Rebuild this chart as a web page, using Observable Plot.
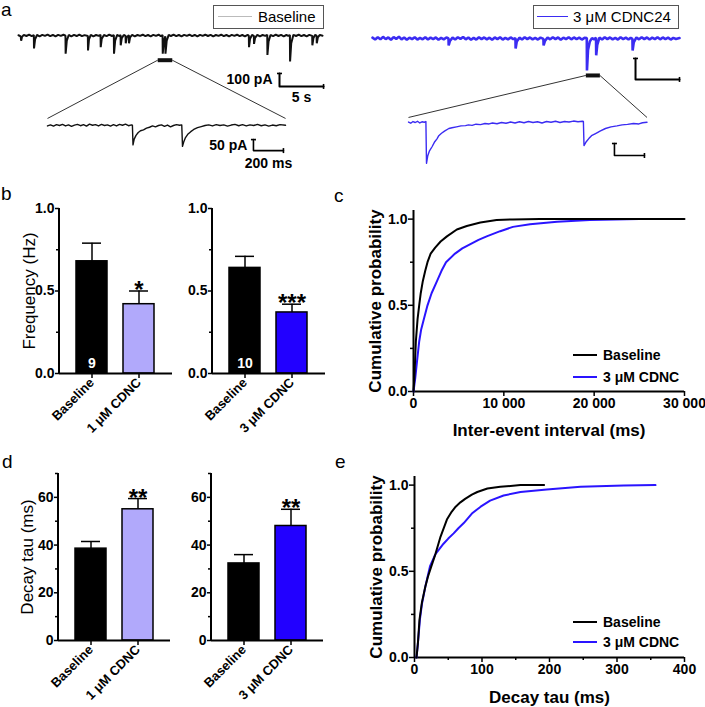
<!DOCTYPE html>
<html><head><meta charset="utf-8">
<script src="https://cdn.jsdelivr.net/npm/d3@7"></script>
<script src="https://cdn.jsdelivr.net/npm/@observablehq/plot@0.6"></script>
<style>
body{margin:0;background:#fff;}
#fig{position:relative;width:705px;height:707px;overflow:hidden;}
.panel{position:absolute;}
</style></head><body><div id="fig"></div>
<script>
// ===================== DATA =====================
// Panel b: frequency (Hz)
const freqCats1 = ["Baseline", "1 μM CDNC"];
const freqMeans1 = [0.68, 0.42];
const freqSems1 = [0.11, 0.08];
const freqN1 = ["9", ""];
const freqStars1 = ["", "*"];
const freqCats3 = ["Baseline", "3 μM CDNC"];
const freqMeans3 = [0.64, 0.37];
const freqSems3 = [0.07, 0.05];
const freqN3 = ["10", ""];
const freqStars3 = ["", "***"];
const freqTicks = [0, 0.5, 1.0];
const freqMinorTicks = [0.25, 0.75];

// Panel d: decay tau (ms)
const tauMeans1 = [38.5, 55.0];
const tauSems1 = [3.0, 4.5];
const tauStars1 = ["", "**"];
const tauMeans3 = [32.3, 48.0];
const tauSems3 = [3.7, 7.0];
const tauStars3 = ["", "**"];
const tauTicks = [0, 20, 40, 60];
const tauMinorTicks = [10, 30, 50, 70];

// Panel c: cumulative probability of inter-event interval (ms, probability)
const iriBaseline = [[0,0],[100,0.08],[260,0.29],[450,0.42],[630,0.5],[800,0.57],[1030,0.64],[1300,0.70],[1550,0.75],[1900,0.80],[2400,0.835],[3000,0.87],[3700,0.9],[4800,0.94],[5900,0.96],[7400,0.98],[9200,0.995],[11000,0.998],[14000,1.0],[30000,1.0]];
const iriCdnc = [[0,0],[200,0.08],[400,0.18],[630,0.29],[850,0.36],[1100,0.41],[1550,0.5],[2000,0.57],[2600,0.64],[3100,0.70],[3600,0.75],[4600,0.8],[5400,0.83],[6300,0.855],[7200,0.88],[8100,0.9],[9600,0.93],[11000,0.955],[12900,0.97],[15900,0.985],[19500,0.995],[25000,1.0]];
const iriTicks = [0, 10000, 20000, 30000];

// Panel e: cumulative probability of decay tau (ms, probability)
const tauBaseline = [[3,0],[5,0.08],[7.4,0.22],[11,0.32],[16,0.41],[20,0.47],[25,0.53],[31,0.60],[38.5,0.70],[48,0.80],[55,0.845],[61,0.875],[68,0.90],[75,0.92],[85,0.945],[93,0.96],[108,0.98],[127,0.99],[157,1.0],[192,1.0]];
const tauCdnc = [[3,0],[5,0.08],[8,0.22],[11,0.31],[16,0.41],[23,0.53],[31,0.60],[37,0.63],[43,0.66],[50,0.69],[58,0.72],[65,0.75],[73,0.78],[85,0.835],[98,0.875],[112,0.91],[132,0.94],[157,0.96],[196,0.975],[246,0.99],[310,0.998],[357,1.0]];
const decayTicks = [0, 100, 200, 300, 400];
const decayMinorTicks = [50, 150, 250, 350];

// Panel a: traces (time, current pA)
const baselineOverview = [[0.0,2],[0.25,-6],[0.3,-40],[0.4,-10],[0.6,5],[0.9,-4],[1.2,6],[1.5,-5],[1.74,3],[1.76,-100],[1.88,-30],[2.1,4],[2.4,-6],[2.7,5],[3.0,-3],[3.3,7],[3.6,-5],[3.9,4],[4.2,-7],[4.5,5],[4.8,-3],[5.1,6],[5.33,-2],[5.35,-140],[5.48,-40],[5.7,4],[6.0,-6],[6.3,5],[6.6,-4],[6.9,7],[7.2,-5],[7.5,3],[7.87,-4],[7.89,-115],[8.0,-30],[8.2,5],[8.5,-6],[8.8,4],[9.1,-3],[9.31,5],[9.33,-90],[9.45,-25],[9.7,4],[10.0,-5],[10.3,6],[10.6,-4],[10.82,3],[10.84,-140],[10.97,-40],[11.2,5],[11.4,-4],[11.58,3],[11.6,-75],[11.72,-20],[11.95,4],[12.15,-3],[12.17,-60],[12.28,-15],[12.52,3],[12.54,-60],[12.66,-15],[12.9,5],[13.2,-6],[13.5,4],[13.8,-3],[14.1,6],[14.4,-5],[14.7,4],[15.0,-6],[15.3,5],[15.6,-3],[15.9,6],[16.15,-4],[16.35,3],[16.37,-140],[16.5,-45],[16.66,-6],[16.68,-140],[16.82,-40],[17.05,5],[17.3,-4],[17.6,6],[17.9,-5],[18.2,4],[18.5,-6],[18.8,5],[19.1,-3],[19.4,6],[19.7,-5],[20.0,4],[20.3,-7],[20.6,5],[20.9,-3],[21.2,6],[21.5,-4],[21.8,5],[22.1,-6],[22.4,4],[22.7,-3],[23.0,6],[23.3,-5],[23.6,4],[23.9,-6],[24.2,5],[24.5,-3],[24.8,6],[25.1,-5],[25.4,4],[25.7,-6],[26.0,5],[26.14,-2],[26.16,-90],[26.28,-25],[26.5,4],[26.71,-3],[26.73,-65],[26.85,-18],[27.1,5],[27.4,-6],[27.7,4],[28.0,-3],[28.23,5],[28.25,-150],[28.38,-45],[28.6,4],[28.9,-5],[29.2,6],[29.5,-4],[29.8,5],[30.1,-6],[30.4,4],[30.6,-3],[30.8,3],[30.82,-200],[30.95,-60],[31.2,5],[31.5,-4],[31.8,6],[32.1,-5],[32.4,4],[32.7,-6],[33.0,5],[33.33,-3],[33.35,-75],[33.47,-20],[33.65,4],[33.83,-2],[33.85,-60],[33.97,-15],[34.2,5],[34.5,-2]];
const baselineZoom = [[0,-2],[20,3],[40,-3],[60,4],[80,0],[100,5],[120,-2],[140,3],[160,-4],[180,2],[200,5],[220,-1],[240,4],[260,-3],[280,6],[300,1],[320,4],[340,-2],[360,5],[380,0],[400,3],[420,-3],[440,4],[460,-2],[480,5],[500,1],[520,6],[540,-1],[560,3],[566,2],[570,-88],[578,-62],[590,-45],[605,-32],[620,-24],[640,-20],[660,-12],[680,-8],[700,-2],[720,-6],[740,0],[760,3],[780,-4],[800,2],[820,-6],[840,0],[860,4],[880,1],[895,3],[900,-95],[908,-75],[920,-55],[935,-40],[955,-28],[975,-18],[1000,-10],[1025,-5],[1050,0],[1075,3],[1100,-2],[1125,4],[1150,0],[1175,3],[1200,-3],[1225,2],[1250,5],[1275,-1],[1300,4],[1325,-2],[1350,3],[1375,0],[1400,5],[1425,-1],[1450,3],[1475,-3],[1500,2],[1525,-1],[1550,4],[1587,1]];
const cdncOverview = [[0,4],[0.3,-5],[0.6,6],[0.9,-4],[1.2,8],[1.5,-3],[1.8,5],[2.1,-6],[2.4,7],[2.7,-2],[3.0,9],[3.3,-4],[3.6,5],[3.9,-6],[4.2,4],[4.5,-3],[4.8,6],[5.1,-5],[5.4,3],[5.7,-4],[6.0,6],[6.3,-5],[6.6,4],[6.9,-3],[7.2,5],[7.5,-6],[7.8,3],[8.1,-4],[8.4,5],[8.64,0],[8.66,-33],[8.8,-12],[9.1,4],[9.4,-5],[9.7,6],[10.0,-2],[10.3,7],[10.6,-4],[10.9,5],[11.2,-6],[11.5,3],[11.8,-5],[12.1,6],[12.4,-3],[12.7,5],[13.0,-4],[13.3,4],[13.6,-6],[13.9,5],[14.2,-3],[14.5,6],[14.8,-5],[15.1,3],[15.4,-4],[15.7,5],[16.0,-3],[16.25,2],[16.27,-48],[16.4,-15],[16.7,4],[17.0,-5],[17.3,6],[17.6,-3],[17.9,5],[18.2,-4],[18.5,3],[18.8,-5],[19.1,4],[19.43,-2],[19.45,-33],[19.6,-12],[19.9,5],[20.2,-4],[20.5,6],[20.8,-3],[21.1,5],[21.4,-6],[21.7,4],[22.0,-3],[22.3,6],[22.6,-4],[22.9,5],[23.2,-3],[23.5,4],[23.8,-5],[24.1,3],[24.36,2],[24.38,-152],[24.5,-55],[24.7,-15],[24.95,2],[25.2,-4],[25.41,3],[25.43,-80],[25.55,-30],[25.8,4],[26.1,-5],[26.4,6],[26.7,-3],[27.0,5],[27.3,-4],[27.6,3],[27.9,-5],[28.2,6],[28.5,-3],[28.8,4],[29.1,-5],[29.35,3],[29.55,-2],[29.57,-57],[29.7,-18],[30.0,5],[30.3,-4],[30.6,6],[30.9,-3],[31.2,5],[31.5,-5],[31.8,4],[32.1,-3],[32.4,6],[32.7,-4],[33.0,5],[33.3,-3],[33.6,4],[33.9,-5],[34.2,3],[34.5,-2],[34.9,2]];
const cdncZoom = [[0,2],[15,-3],[30,4],[45,0],[60,5],[75,-2],[90,3],[105,1],[116,4],[120,-170],[128,-140],[140,-118],[158,-100],[175,-80],[190,-68],[202,-55],[220,-45],[240,-36],[269,-25],[290,-22],[320,-18],[350,-14],[380,-13],[400,-10],[424,-12],[450,-7],[480,-9],[510,-4],[537,-6],[560,-2],[590,-5],[620,0],[650,-3],[680,2],[710,-2],[740,3],[770,-1],[800,4],[830,0],[860,3],[890,-2],[920,4],[950,1],[980,5],[1010,0],[1040,4],[1070,2],[1100,6],[1130,3],[1160,5],[1166,4],[1170,-96],[1185,-80],[1202,-67],[1220,-55],[1247,-46],[1280,-35],[1313,-25],[1350,-18],[1390,-14],[1424,-10],[1460,-8],[1500,-4],[1536,-6],[1560,-1],[1590,1]];

// ===================== STYLE =====================
const FONT = "'Liberation Sans', Arial, Helvetica, sans-serif";
const BLUE = "#2200ff";
const LAVENDER = "#b1a9fb";
const TRACE_BLUE = "#3b2cf2";
const CDF_BLUE = "#2a14ff";
const fig = document.getElementById("fig");

function place(node, left, top) {
  const d = document.createElement("div");
  d.className = "panel";
  d.style.left = left + "px";
  d.style.top = top + "px";
  d.appendChild(node);
  fig.appendChild(d);
}

// vertical axis line at the left edge of the frame
function leftAxisLine(w) {
  return (index, scales, values, dims) => {
    const l = document.createElementNS("http://www.w3.org/2000/svg", "line");
    l.setAttribute("x1", dims.marginLeft); l.setAttribute("x2", dims.marginLeft);
    l.setAttribute("y1", dims.marginTop); l.setAttribute("y2", dims.height - dims.marginBottom);
    l.setAttribute("stroke", "#000"); l.setAttribute("stroke-width", w);
    return l;
  };
}

// ===================== BAR PANELS =====================
function barPanel(o) {
  const data = o.cats.map((c, i) => ({cat: c, mean: o.means[i], sem: o.sems[i], n: o.ns ? o.ns[i] : "", star: o.stars[i]}));
  return Plot.plot({
    width: 180, height: 250,
    marginLeft: o.ml, marginRight: o.mr, marginTop: o.mt, marginBottom: o.mb,
    style: {fontFamily: FONT, background: "transparent", overflow: "visible"},
    x: {domain: o.cats, range: o.xr, paddingInner: 0.35, paddingOuter: 0, axis: null},
    y: {domain: [0, o.yMax], axis: null},
    color: {type: "identity"},
    marks: [
      Plot.barY(data, {x: "cat", y: "mean", fill: (d, i) => o.fills[i], stroke: "#000", strokeWidth: 1.5}),
      Plot.ruleX(data, {x: "cat", y1: "mean", y2: d => d.mean + d.sem, stroke: "#000", strokeWidth: 1.5}),
      Plot.tickY(data, {x: "cat", y: d => d.mean + d.sem, insetLeft: 6, insetRight: 6, stroke: "#000", strokeWidth: 1.5}),
      Plot.text(data, {x: "cat", y: d => d.mean + d.sem, text: "star", dy: 7, lineAnchor: "bottom", fontSize: 24, fontWeight: "bold", fill: "#000"}),
      Plot.text(data, {x: "cat", y: d => 0, text: "n", dy: -6, lineAnchor: "bottom", fontSize: 14, fontWeight: "bold", fill: "#fff"}),
      Plot.axisY({ticks: o.minor, tickSize: 3, tickFormat: () => "", label: null, strokeWidth: 1.5}),
      Plot.axisY({ticks: o.major, tickSize: 4, tickPadding: 1, tickFormat: o.fmt, label: null, strokeWidth: 1.5, fontSize: 14, fontWeight: "bold"}),
      Plot.axisX({tickSize: 5, tickPadding: 2, tickRotate: -45, label: null, strokeWidth: 1.5, fontSize: 13, fontWeight: "bold"}),
      Plot.ruleY([0], {stroke: "#000", strokeWidth: 2}),
      leftAxisLine(2),
      o.ylabel ? Plot.text([o.ylabel], {text: d => d, frameAnchor: "left", dx: o.ylabelDx, rotate: -90, textAnchor: "middle", lineAnchor: "middle", fontSize: 17, fill: "#000"}) : null
    ]
  });
}

const f1 = d3.format(".1f");
place(barPanel({cats: freqCats1, means: freqMeans1, sems: freqSems1, ns: freqN1, stars: freqStars1, fills: ["#000", LAVENDER],
  yMax: 1, major: freqTicks, minor: freqMinorTicks, fmt: f1, ylabel: "Frequency (Hz)", ylabelDx: -30,
  ml: 59, mr: 8, mt: 18, mb: 67, xr: [76, 154]}), 0, 190);
place(barPanel({cats: freqCats3, means: freqMeans3, sems: freqSems3, ns: freqN3, stars: freqStars3, fills: ["#000", BLUE],
  yMax: 1, major: freqTicks, minor: freqMinorTicks, fmt: f1,
  ml: 59, mr: 8, mt: 18, mb: 67, xr: [76, 154]}), 153, 190);
place(barPanel({cats: freqCats1, means: tauMeans1, sems: tauSems1, stars: tauStars1, fills: ["#000", LAVENDER],
  yMax: 70, major: tauTicks, minor: tauMinorTicks, fmt: d3.format("d"), ylabel: "Decay tau (ms)", ylabelDx: -31,
  ml: 58, mr: 10, mt: 18, mb: 65, xr: [75, 153]}), 0, 455);
place(barPanel({cats: freqCats3, means: tauMeans3, sems: tauSems3, stars: tauStars3, fills: ["#000", BLUE],
  yMax: 70, major: tauTicks, minor: tauMinorTicks, fmt: d3.format("d"),
  ml: 58, mr: 10, mt: 18, mb: 65, xr: [75, 153]}), 153, 455);

// ===================== CUMULATIVE PANELS =====================
function cdfPanel(o) {
  return Plot.plot({
    width: 365, height: o.h,
    marginLeft: o.ml, marginRight: 21, marginTop: o.mt, marginBottom: o.mb,
    style: {fontFamily: FONT, background: "transparent", overflow: "visible"},
    x: {domain: [0, o.xMax], axis: null},
    y: {domain: [0, 1.05], axis: null},
    marks: [
      Plot.axisY({ticks: [0.25, 0.75], tickSize: 3, tickFormat: () => "", label: null, strokeWidth: 1.5}),
      Plot.axisY({ticks: [0, 0.5, 1], tickSize: 5, tickPadding: 1, tickFormat: f1, label: null, strokeWidth: 1.5, fontSize: 14, fontWeight: "bold"}),
      o.xMinor ? Plot.axisX({ticks: o.xMinor, tickSize: 3, tickFormat: () => "", label: null, strokeWidth: 1.5}) : null,
      Plot.axisX({ticks: o.xTicks, tickSize: 5, tickPadding: 2, tickFormat: o.xFmt, label: null, strokeWidth: 1.5, fontSize: 14, fontWeight: "bold"}),
      Plot.ruleX([0], {stroke: "#000", strokeWidth: 2}),
      Plot.ruleY([0], {stroke: "#000", strokeWidth: 2}),
      Plot.line(o.cdnc, {x: d => d[0], y: d => d[1], stroke: CDF_BLUE, strokeWidth: 2}),
      Plot.line(o.base, {x: d => d[0], y: d => d[1], stroke: "#000", strokeWidth: 2}),
      Plot.text(["Cumulative probability"], {text: d => d, frameAnchor: "left", dx: o.yDx, rotate: -90, textAnchor: "middle", lineAnchor: "middle", fontSize: 17, fontWeight: "bold", fill: "#000"}),
      Plot.text([o.xlabel], {text: d => d, frameAnchor: "bottom", dy: o.xDy, textAnchor: "middle", lineAnchor: "middle", fontSize: 17, fontWeight: "bold", fill: "#000"})
    ]
  });
}
place(cdfPanel({h: 255, ml: 73, mt: 25, mb: 49, xMax: 30000, xTicks: iriTicks,
  xFmt: d => d3.format(",")(d).replace(/,/g, " "), xlabel: "Inter-event interval (ms)",
  base: iriBaseline, cdnc: iriCdnc, yDx: -38, xDy: 39}), 340, 185);
place(cdfPanel({h: 252, ml: 74, mt: 21, mb: 50, xMax: 400, xTicks: decayTicks, xMinor: decayMinorTicks,
  xFmt: d3.format("d"), xlabel: "Decay tau (ms)",
  base: tauBaseline, cdnc: tauCdnc, yDx: -38, xDy: 40}), 340, 455);

// ===================== TRACE PANELS (a) =====================
function tracePanel(S) {
  const H = 172;
  const kx = (S.x1 - S.x0) / S.dur;             // px per s (overview)
  const ix = ms => (S.ix0 - S.x0) / kx + ms * S.ipxms / kx;      // zoom ms -> overview s
  const iy = pa => (S.base - S.ibase) / S.kpa + pa * S.ikpa / S.kpa; // zoom pA -> overview pA
  const capX = 2.5 / kx, capY = 2.5 / S.kpa;
  const sb = S.sb, isb = S.isb;
  const ovBar = [[sb.t, sb.top], [sb.t, sb.top - sb.pa], [sb.t + sb.s, sb.top - sb.pa]];
  const zBar = [[ix(isb.ms), iy(isb.top)], [ix(isb.ms), iy(isb.top - isb.pa)], [ix(isb.ms + isb.dms), iy(isb.top - isb.pa)]];
  const caps = [
    {x1: sb.t - capX, x2: sb.t + capX, y1: sb.top, y2: sb.top},
    {x1: sb.t + sb.s, x2: sb.t + sb.s, y1: sb.top - sb.pa + capY, y2: sb.top - sb.pa - capY},
    {x1: ix(isb.ms) - capX, x2: ix(isb.ms) + capX, y1: iy(isb.top), y2: iy(isb.top)},
    {x1: ix(isb.ms + isb.dms), x2: ix(isb.ms + isb.dms), y1: iy(isb.top - isb.pa) + capY, y2: iy(isb.top - isb.pa) - capY}
  ];
  const conns = [
    {x1: S.win[0], y1: S.barPA, x2: ix(0), y2: iy(S.connPA)},
    {x1: S.win[1], y1: S.barPA, x2: ix(S.idur), y2: iy(S.connPA)}
  ];
  const marks = [
    Plot.link(conns, {x1: "x1", y1: "y1", x2: "x2", y2: "y2", stroke: "#333", strokeWidth: 1}),
    Plot.line(S.overview, {x: d => d[0], y: d => d[1], stroke: S.color, strokeWidth: S.ovWidth, strokeLinejoin: "miter"}),
    Plot.line(S.zoom, {x: d => ix(d[0]), y: d => iy(d[1]), stroke: S.color, strokeWidth: 1.4}),
    Plot.link([{x1: S.win[0], x2: S.win[1], y: S.barPA}], {x1: "x1", x2: "x2", y1: "y", y2: "y", stroke: "#111", strokeWidth: 4}),
    Plot.line(ovBar, {stroke: "#000", strokeWidth: 2}),
    Plot.line(zBar, {stroke: "#000", strokeWidth: 1.6}),
    Plot.link(caps, {x1: "x1", y1: "y1", x2: "x2", y2: "y2", stroke: "#000", strokeWidth: 1.6})
  ];
  if (S.labels) {
    marks.push(
      Plot.text(["100 pA"], {text: d => d, x: d => sb.t, y: d => sb.top - sb.pa / 2, dx: -7, textAnchor: "end", lineAnchor: "middle", fontSize: 14, fontWeight: "bold", fill: "#000"}),
      Plot.text(["5 s"], {text: d => d, x: d => sb.t + sb.s / 2, y: d => sb.top - sb.pa, dy: 11, lineAnchor: "middle", fontSize: 14, fontWeight: "bold", fill: "#000"}),
      Plot.text(["50 pA"], {text: d => d, x: d => ix(isb.ms), y: d => iy(isb.top - isb.pa / 2), dx: -6, textAnchor: "end", lineAnchor: "middle", fontSize: 14, fontWeight: "bold", fill: "#000"}),
      Plot.text(["200 ms"], {text: d => d, x: d => ix(isb.ms + isb.dms / 2), y: d => iy(isb.top - isb.pa), dy: 13, lineAnchor: "middle", fontSize: 14, fontWeight: "bold", fill: "#000"})
    );
  }
  return Plot.plot({
    width: 705, height: H, margin: 0,
    style: {fontFamily: FONT, background: "transparent", overflow: "visible"},
    x: {domain: [0, S.dur], range: [S.x0, S.x1], axis: null},
    y: {domain: [(S.base - H) / S.kpa, S.base / S.kpa], range: [H, 0], axis: null},
    marks
  });
}
place(tracePanel({x0: 18, x1: 322, dur: 34.5, base: 35, kpa: 0.13, ix0: 47, ipxms: 0.15, ibase: 125, ikpa: 0.22, idur: 1587,
  color: "#111", ovWidth: 2, win: [15.8, 17.45], barPA: -190, connPA: 32,
  sb: {t: 29.62, top: -292, pa: 100, s: 5}, isb: {ms: 1373, top: -64, pa: 50, dms: 200},
  overview: baselineOverview, zoom: baselineZoom, labels: true}), 0, 0);
place(tracePanel({x0: 372, x1: 679, dur: 34.9, base: 38, kpa: 0.21, ix0: 408, ipxms: 0.15, ibase: 122, ikpa: 0.24, idur: 1590,
  color: TRACE_BLUE, ovWidth: 2.6, win: [24.25, 25.85], barPA: -176, connPA: 21,
  sb: {t: 29.9, top: -95, pa: 100, s: 5}, isb: {ms: 1373, top: -87.5, pa: 50, dms: 200},
  overview: cdncOverview, zoom: cdncZoom, labels: false}), 0, 0);

// ===================== OVERLAY: panel letters & legends =====================
const ov = d3.select(fig).append("svg")
  .attr("width", 705).attr("height", 707)
  .style("position", "absolute").style("left", "0px").style("top", "0px")
  .attr("font-family", FONT);
[["a", 1, 16], ["b", 1, 200], ["c", 334, 202], ["d", 2, 468], ["e", 335, 468]].forEach(([t, x, y]) =>
  ov.append("text").attr("x", x).attr("y", y).attr("font-size", 19).text(t));

// panel a legends
ov.append("rect").attr("x", 213.5).attr("y", 5.5).attr("width", 110).attr("height", 23).attr("fill", "#fff").attr("stroke", "#555");
ov.append("line").attr("x1", 218).attr("x2", 252).attr("y1", 16.5).attr("y2", 16.5).attr("stroke", "#bbb").attr("stroke-width", 1);
ov.append("text").attr("x", 258).attr("y", 22).attr("font-size", 15).text("Baseline");
ov.append("rect").attr("x", 533.5).attr("y", 5.5).attr("width", 145).attr("height", 23).attr("fill", "#fff").attr("stroke", "#555");
ov.append("line").attr("x1", 537).attr("x2", 568).attr("y1", 16.5).attr("y2", 16.5).attr("stroke", TRACE_BLUE).attr("stroke-width", 1);
ov.append("text").attr("x", 573).attr("y", 22).attr("font-size", 15).text("3 μM CDNC24");

// panels c and e legends
[[355, 377], [622, 642]].forEach(([yb, yc]) => {
  ov.append("line").attr("x1", 573).attr("x2", 597).attr("y1", yb).attr("y2", yb).attr("stroke", "#000").attr("stroke-width", 2);
  ov.append("text").attr("x", 603).attr("y", yb).attr("dy", "0.35em").attr("font-size", 14).attr("font-weight", "bold").text("Baseline");
  ov.append("line").attr("x1", 573).attr("x2", 597).attr("y1", yc).attr("y2", yc).attr("stroke", CDF_BLUE).attr("stroke-width", 2);
  ov.append("text").attr("x", 603).attr("y", yc).attr("dy", "0.35em").attr("font-size", 14).attr("font-weight", "bold").text("3 μM CDNC");
});
</script></body></html>
